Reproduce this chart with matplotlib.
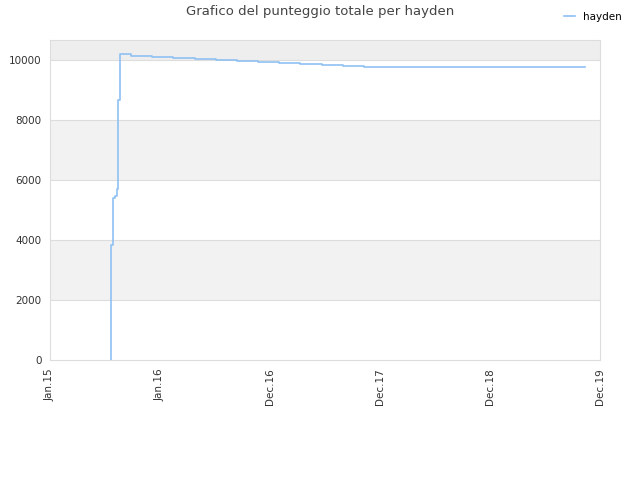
import matplotlib
matplotlib.use("Agg")
import matplotlib.pyplot as plt

# x in tick-slot units (0 = Jan.15, 1 = Jan.16, ...), values = total score
x_pos = [0.555, 0.555, 0.570, 0.591, 0.606, 0.621, 0.636, 0.736, 0.927, 1.118,
         1.318, 1.509, 1.700, 1.891, 2.082, 2.273, 2.473, 2.664, 2.855, 4.864]
scores = [0, 3830, 5400, 5480, 5700, 8670, 10190, 10150, 10110, 10075,
          10045, 10010, 9980, 9935, 9900, 9870, 9835, 9800, 9770, 9770]
tick_labels = ["Jan.15", "Jan.16", "Dec.16", "Dec.17", "Dec.18", "Dec.19"]
y_ticks = [0, 2000, 4000, 6000, 8000, 10000]

fig = plt.figure(figsize=(6.4, 4.8), dpi=100)
ax = fig.add_axes([50 / 640, 120 / 480, 550 / 640, 320 / 480])

ymax = 10670
# alternating bands
for i, lo in enumerate(y_ticks):
    hi = y_ticks[i + 1] if i + 1 < len(y_ticks) else ymax
    if i % 2 == 1:
        ax.axhspan(lo, hi, color="#f2f2f2", zorder=0, lw=0)
    if lo == 10000:
        ax.axhspan(lo, hi, color="#eeeeee", zorder=0, lw=0)
for t in y_ticks[1:]:
    ax.axhline(t, color="#dddddd", lw=0.8, zorder=1)

ax.step(x_pos, scores, where="post", color="#8fc1f2", lw=1.2, label="hayden", zorder=3)

ax.set_xlim(0, 5)
ax.set_ylim(0, ymax)
ax.set_xticks(range(len(tick_labels)))
ax.set_xticklabels(tick_labels, rotation=90)
ax.set_yticks(y_ticks)
ax.tick_params(length=0, labelsize=7.5, colors="#333333", pad=6)
for s in ax.spines.values():
    s.set_color("#dddddd")

fig.suptitle("Grafico del punteggio totale per hayden", y=0.99, fontsize=9.5, color="#444444")
fig.legend(loc="upper right", bbox_to_anchor=(0.986, 0.995), frameon=False,
           fontsize=7.5, handlelength=1.0, handletextpad=0.8)

fig.savefig("out.png", dpi=100)
